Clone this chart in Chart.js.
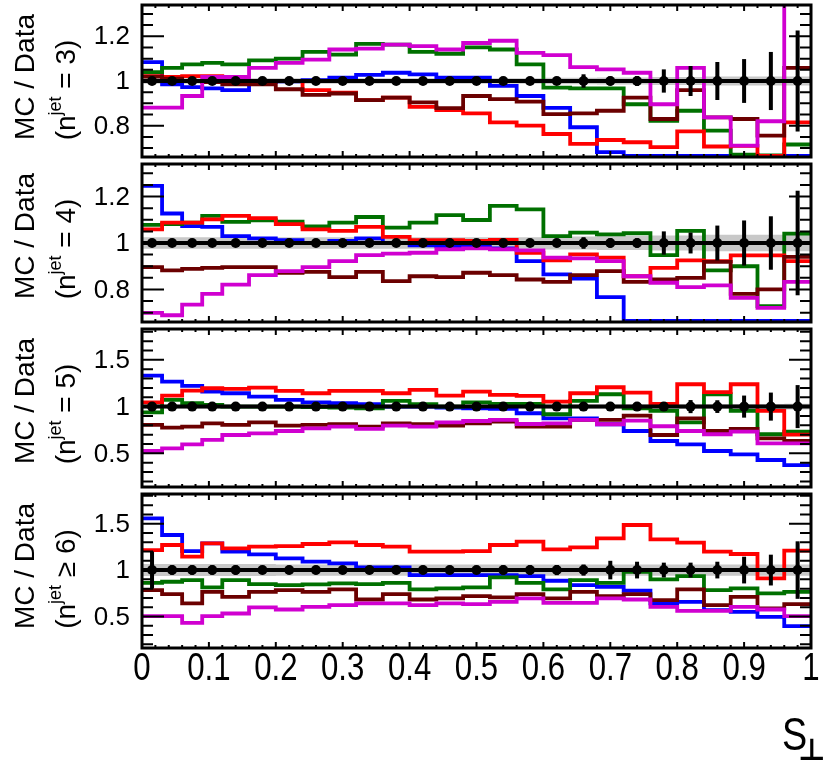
<!DOCTYPE html>
<html>
<head>
<meta charset="utf-8">
<script src="https://cdn.jsdelivr.net/npm/chart.js@4.4.0/dist/chart.umd.min.js"></script>
<style>
  html, body { margin: 0; padding: 0; background: #fff; }
  #wrap { position: relative; width: 835px; height: 763px; }
  #wrap canvas { position: absolute; left: 0; top: 0; }
</style>
</head>
<body>
<div id="wrap">
  <canvas id="jet3" width="835" height="763"></canvas>
  <canvas id="jet4" width="835" height="763"></canvas>
  <canvas id="jet5" width="835" height="763"></canvas>
  <canvas id="jet6" width="835" height="763"></canvas>
</div>
<script>
// ---- binning (first four bins are narrower) ----
const binEdges = [0, 0.03, 0.06, 0.09, 0.12, 0.16, 0.20, 0.24, 0.28, 0.32, 0.36, 0.40, 0.44,
  0.48, 0.52, 0.56, 0.60, 0.64, 0.68, 0.72, 0.76, 0.80, 0.84, 0.88, 0.92, 0.96, 1.00];
const xTicks = [0, 0.1, 0.2, 0.3, 0.4, 0.5, 0.6, 0.7, 0.8, 0.9, 1];
const xTickLabels = ['0', '0.1', '0.2', '0.3', '0.4', '0.5', '0.6', '0.7', '0.8', '0.9', '1'];
const yTicksNarrow = [0.8, 1, 1.2];
const yTicksWide = [0.5, 1, 1.5];

// data / data
const dataRatio = [1, 1, 1, 1, 1, 1, 1, 1, 1, 1, 1, 1, 1, 1, 1, 1, 1, 1, 1, 1, 1, 1, 1, 1, 1, 1];

// ---- n_jet = 3 ----
const blueJ3 = [1.084, 0.985, 0.973, 0.967, 0.959, 0.995, 0.998, 1.004, 1.015, 1.027, 1.037, 1.03, 1.015,
  1.015, 0.978, 0.933, 0.88, 0.793, 0.682, 0.665, 0.665, 0.665, 0.665, 0.665, 0.665, 0.665];
const greenJ3 = [1.04, 1.059, 1.074, 1.081, 1.074, 1.092, 1.10, 1.13, 1.118, 1.166, 1.163, 1.13, 1.122,
  1.15, 1.141, 1.074, 0.97, 0.967, 0.967, 0.896, 0.822, 0.867, 0.778, 0.671, 0.667, 0.716];
const magentaJ3 = [0.881, 0.881, 0.933, 1.018, 1.018, 1.059, 1.081, 1.096, 1.141, 1.145, 1.163, 1.156, 1.141,
  1.17, 1.18, 1.126, 1.116, 1.062, 1.052, 1.037, 0.896, 1.059, 0.837, 0.711, 0.82, 1.40];
const redJ3 = [1.022, 1.018, 1.022, 1.022, 1.0, 1.0, 1.0, 0.959, 0.948, 0.914, 0.926, 0.884, 0.87,
  0.855, 0.815, 0.8, 0.763, 0.719, 0.736, 0.726, 0.704, 0.775, 0.707, 0.71, 0.665, 0.815];
const maroonJ3 = [1.02, 1.01, 1.0, 0.995, 0.985, 0.985, 0.963, 0.938, 0.944, 0.914, 0.926, 0.904, 0.879,
  0.933, 0.919, 0.908, 0.852, 0.855, 0.867, 0.926, 0.83, 0.959, 0.837, 0.83, 0.756, 1.059];
const errJ3 = [0.012, 0.01, 0.01, 0.01, 0.01, 0.01, 0.01, 0.01, 0.01, 0.01, 0.01, 0.01, 0.012,
  0.012, 0.014, 0.016, 0.018, 0.03, 0.02, 0.022, 0.052, 0.067, 0.085, 0.098, 0.13, 0.226];
const bandJ3 = [0.012, 0.012, 0.012, 0.012, 0.012, 0.012, 0.012, 0.012, 0.012, 0.012, 0.012, 0.012, 0.012,
  0.012, 0.012, 0.012, 0.014, 0.014, 0.016, 0.016, 0.018, 0.018, 0.02, 0.02, 0.02, 0.02];

// ---- n_jet = 4 ----
const blueJ4 = [1.246, 1.127, 1.073, 1.069, 1.03, 1.02, 1.012, 1.0, 1.009, 1.02, 1.0, 0.99, 0.987,
  0.983, 0.977, 0.922, 0.865, 0.847, 0.767, 0.665, 0.665, 0.665, 0.665, 0.665, 0.665, 0.665];
const greenJ4 = [1.078, 1.081, 1.088, 1.117, 1.091, 1.098, 1.092, 1.071, 1.088, 1.112, 1.066, 1.088, 1.12,
  1.099, 1.16, 1.145, 1.03, 1.045, 1.037, 1.042, 0.948, 1.052, 0.882, 0.9, 0.728, 1.04];
const magentaJ4 = [0.699, 0.689, 0.735, 0.781, 0.821, 0.862, 0.879, 0.896, 0.922, 0.948, 0.954, 0.958, 0.973,
  0.977, 0.973, 0.968, 0.937, 0.934, 0.922, 0.857, 0.829, 0.81, 0.818, 0.764, 0.721, 0.833];
const redJ4 = [1.059, 1.088, 1.088, 1.102, 1.117, 1.107, 1.081, 1.059, 1.052, 1.069, 1.026, 1.012, 1.012,
  1.009, 1.013, 0.958, 0.925, 0.951, 0.937, 0.857, 0.893, 0.925, 0.922, 0.947, 0.947, 0.922];
const maroonJ4 = [0.896, 0.882, 0.889, 0.893, 0.896, 0.896, 0.872, 0.876, 0.853, 0.876, 0.836, 0.857, 0.853,
  0.872, 0.862, 0.843, 0.833, 0.862, 0.879, 0.833, 0.843, 0.85, 0.919, 0.781, 0.8, 0.94];
const errJ4 = [0.012, 0.01, 0.01, 0.01, 0.01, 0.01, 0.01, 0.01, 0.01, 0.01, 0.01, 0.012, 0.012,
  0.012, 0.014, 0.016, 0.018, 0.025, 0.02, 0.02, 0.05, 0.045, 0.075, 0.097, 0.115, 0.225];
const bandJ4 = [0.025, 0.025, 0.025, 0.025, 0.025, 0.025, 0.025, 0.025, 0.025, 0.025, 0.025, 0.025, 0.025,
  0.025, 0.025, 0.025, 0.028, 0.028, 0.03, 0.03, 0.032, 0.032, 0.035, 0.035, 0.035, 0.035];

// ---- n_jet = 5 ----
const blueJ5 = [1.332, 1.268, 1.221, 1.161, 1.143, 1.107, 1.071, 1.046, 1.036, 1.025, 1.0, 1.0, 0.99,
  0.982, 0.975, 0.929, 0.875, 0.875, 0.811, 0.739, 0.632, 0.596, 0.525, 0.489, 0.429, 0.375];
const greenJ5 = [0.939, 1.071, 1.036, 1.018, 1.0, 1.0, 1.0, 0.995, 0.99, 0.982, 1.061, 1.025, 1.0,
  1.046, 1.029, 1.029, 0.918, 1.061, 1.132, 0.982, 0.954, 0.832, 1.132, 0.954, 0.704, 0.732];
const magentaJ5 = [0.525, 0.554, 0.596, 0.643, 0.696, 0.714, 0.739, 0.768, 0.786, 0.761, 0.796, 0.786, 0.832,
  0.846, 0.857, 0.814, 0.821, 0.857, 0.811, 0.85, 0.79, 0.739, 0.704, 0.732, 0.607, 0.607];
const redJ5 = [1.046, 1.118, 1.171, 1.196, 1.189, 1.204, 1.168, 1.143, 1.168, 1.168, 1.143, 1.179, 1.118,
  1.161, 1.125, 1.114, 1.054, 1.143, 1.207, 1.15, 1.029, 1.239, 1.154, 1.239, 0.954, 0.70];
const maroonJ5 = [0.804, 0.775, 0.786, 0.821, 0.804, 0.832, 0.796, 0.804, 0.811, 0.786, 0.821, 0.811, 0.796,
  0.821, 0.839, 0.786, 0.786, 0.857, 0.857, 0.904, 0.696, 0.875, 0.739, 0.761, 0.661, 0.632];
const errJ5 = [0.025, 0.02, 0.02, 0.02, 0.02, 0.02, 0.02, 0.02, 0.02, 0.02, 0.02, 0.02, 0.02,
  0.02, 0.02, 0.02, 0.025, 0.025, 0.03, 0.03, 0.035, 0.07, 0.068, 0.118, 0.15, 0.23];
const bandJ5 = [0.02, 0.02, 0.02, 0.02, 0.02, 0.02, 0.02, 0.02, 0.02, 0.02, 0.02, 0.02, 0.02,
  0.02, 0.02, 0.02, 0.02, 0.022, 0.022, 0.024, 0.024, 0.026, 0.026, 0.028, 0.028, 0.03];

// ---- n_jet >= 6 ----
const blueJ6 = [1.558, 1.378, 1.205, 1.288, 1.198, 1.169, 1.126, 1.09, 1.072, 1.03, 1.03, 0.946, 0.946,
  0.946, 0.946, 0.935, 0.885, 0.838, 0.82, 0.777, 0.64, 0.658, 0.568, 0.55, 0.496, 0.395];
const greenJ6 = [0.863, 0.874, 0.892, 0.813, 0.892, 0.849, 0.838, 0.845, 0.856, 0.849, 0.863, 0.791, 0.802,
  0.813, 0.921, 0.863, 0.791, 0.892, 0.863, 0.982, 0.899, 0.935, 0.784, 0.802, 0.748, 0.766];
const magentaJ6 = [0.503, 0.503, 0.431, 0.503, 0.532, 0.597, 0.575, 0.604, 0.622, 0.64, 0.64, 0.622, 0.64,
  0.633, 0.658, 0.694, 0.647, 0.647, 0.694, 0.683, 0.604, 0.561, 0.561, 0.604, 0.575, 0.503];
const redJ6 = [1.216, 1.27, 1.144, 1.288, 1.234, 1.252, 1.259, 1.281, 1.299, 1.27, 1.252, 1.198, 1.198,
  1.205, 1.27, 1.306, 1.223, 1.245, 1.342, 1.486, 1.331, 1.295, 1.198, 1.173, 0.91, 1.209];
const maroonJ6 = [0.784, 0.741, 0.64, 0.766, 0.712, 0.766, 0.784, 0.766, 0.791, 0.683, 0.741, 0.683, 0.694,
  0.719, 0.705, 0.741, 0.694, 0.766, 0.719, 0.741, 0.676, 0.791, 0.622, 0.712, 0.586, 0.633];
const errJ6 = [0.2, 0.05, 0.05, 0.05, 0.05, 0.045, 0.045, 0.045, 0.045, 0.045, 0.045, 0.045, 0.045,
  0.045, 0.05, 0.05, 0.055, 0.06, 0.1, 0.09, 0.08, 0.08, 0.09, 0.144, 0.166, 0.31];
const bandJ6 = [0.065, 0.065, 0.065, 0.065, 0.065, 0.065, 0.06, 0.06, 0.06, 0.06, 0.06, 0.06, 0.06,
  0.06, 0.06, 0.06, 0.06, 0.06, 0.06, 0.06, 0.06, 0.06, 0.06, 0.06, 0.06, 0.06];

const histColors = ['#0000ff', '#007000', '#ff0000', '#6b0000', '#d000d0'];

const panels = [
  { id: 'jet3', top: 4, bottom: 157, min: 0.66, max: 1.34, ticks: yTicksNarrow, minor: 0.05, rel: '=', n: '3',
    hists: [blueJ3, greenJ3, redJ3, maroonJ3, magentaJ3], err: errJ3, band: bandJ3 },
  { id: 'jet4', top: 164, bottom: 322, min: 0.66, max: 1.34, ticks: yTicksNarrow, minor: 0.05, rel: '=', n: '4',
    hists: [blueJ4, greenJ4, redJ4, maroonJ4, magentaJ4], err: errJ4, band: bandJ4 },
  { id: 'jet5', top: 329, bottom: 487, min: 0.14, max: 1.83, ticks: yTicksWide, minor: 0.1, rel: '=', n: '5',
    hists: [blueJ5, greenJ5, redJ5, maroonJ5, magentaJ5], err: errJ5, band: bandJ5 },
  { id: 'jet6', top: 494, bottom: 648, min: 0.16, max: 1.82, ticks: yTicksWide, minor: 0.1, rel: '\u2265', n: '6',
    hists: [blueJ6, greenJ6, redJ6, maroonJ6, magentaJ6], err: errJ6, band: bandJ6, xLabels: true }
];

const FONT = '"Liberation Sans", Arial, Helvetica, sans-serif';
const binCenters = binEdges.slice(0, -1).map((e, i) => (e + binEdges[i + 1]) / 2);

function stepPoints(vals) {
  return binEdges.map((x, i) => ({ x, y: vals[Math.min(i, vals.length - 1)] }));
}

function bandPoints(widths, sign) {
  return binEdges.map((x, i) => {
    const k = Math.min(i, widths.length - 1);
    return { x, y: dataRatio[k] + sign * widths[k] };
  });
}

// frame, inward ticks, labels and error bars, ROOT style
function makeDecor(p) {
  return {
    id: 'decor_' + p.id,
    afterDatasetsDraw(chart) {
      const { ctx, chartArea: a } = chart;
      const xs = chart.scales.x, ys = chart.scales.y;
      ctx.save();
      ctx.beginPath();
      ctx.rect(a.left, a.top, a.right - a.left, a.bottom - a.top);
      ctx.clip();
      ctx.strokeStyle = '#000';
      ctx.lineWidth = 4;
      binCenters.forEach((c, i) => {
        const px = xs.getPixelForValue(c);
        ctx.beginPath();
        ctx.moveTo(px, ys.getPixelForValue(dataRatio[i] + p.err[i]));
        ctx.lineTo(px, ys.getPixelForValue(dataRatio[i] - p.err[i]));
        ctx.stroke();
      });
      ctx.restore();
    },
    afterDraw(chart) {
      const { ctx, chartArea: a } = chart;
      const xs = chart.scales.x, ys = chart.scales.y;
      ctx.save();
      ctx.strokeStyle = '#000';
      ctx.fillStyle = '#000';

      // y ticks, left and right
      ctx.lineWidth = 2;
      const nMinor = Math.round((p.max - p.min) / p.minor) + 2;
      const start = Math.ceil(p.min / p.minor - 1e-6) * p.minor;
      for (let k = 0; k < nMinor; k++) {
        const v = start + k * p.minor;
        if (v > p.max + 1e-6) break;
        const py = ys.getPixelForValue(v);
        const major = p.ticks.some(t => Math.abs(t - v) < 1e-6);
        const len = major ? 22 : 11;
        ctx.beginPath();
        ctx.moveTo(a.left, py); ctx.lineTo(a.left + len, py);
        ctx.moveTo(a.right, py); ctx.lineTo(a.right - len, py);
        ctx.stroke();
      }
      // x ticks, top and bottom
      for (let k = 0; k <= 50; k++) {
        const v = k * 0.02;
        const px = xs.getPixelForValue(v);
        const len = k % 5 === 0 ? 6 : 3;
        ctx.beginPath();
        ctx.moveTo(px, a.top); ctx.lineTo(px, a.top + len);
        ctx.moveTo(px, a.bottom); ctx.lineTo(px, a.bottom - len);
        ctx.stroke();
      }

      // frame
      ctx.lineWidth = 3;
      ctx.strokeRect(a.left, a.top, a.right - a.left, a.bottom - a.top);

      // y tick labels
      ctx.font = '26px ' + FONT;
      ctx.textAlign = 'right';
      ctx.textBaseline = 'middle';
      p.ticks.forEach(t => {
        ctx.fillText(String(t), 130, ys.getPixelForValue(t) + 1);
      });

      // rotated axis titles
      const mid = a.top;
      ctx.save();
      ctx.translate(34, mid + 72);
      ctx.rotate(-Math.PI / 2);
      ctx.font = '28px ' + FONT;
      ctx.textAlign = 'center';
      ctx.textBaseline = 'alphabetic';
      ctx.fillText('MC / Data', 0, 0);
      ctx.restore();

      ctx.save();
      ctx.translate(75, mid + 85);
      ctx.rotate(-Math.PI / 2);
      ctx.textBaseline = 'alphabetic';
      ctx.textAlign = 'left';
      const big = '28px ' + FONT, small = '18px ' + FONT;
      const s1 = '(n', s2 = 'jet', s3 = ' ' + p.rel + ' ' + p.n + ')';
      ctx.font = big; const w1 = ctx.measureText(s1).width, w3 = ctx.measureText(s3).width;
      ctx.font = small; const w2 = ctx.measureText(s2).width;
      let x0 = -(w1 + w2 + w3) / 2;
      ctx.font = big; ctx.fillText(s1, x0, 0); x0 += w1;
      ctx.font = small; ctx.fillText(s2, x0, -14); x0 += w2;
      ctx.font = big; ctx.fillText(s3, x0, 0);
      ctx.restore();

      // x tick labels and axis title under the last panel
      if (p.xLabels) {
        ctx.font = '38px ' + FONT;
        ctx.textAlign = 'center';
        ctx.textBaseline = 'alphabetic';
        xTicks.forEach((t, i) => {
          ctx.save();
          ctx.translate(xs.getPixelForValue(t), a.bottom + 32);
          ctx.scale(0.82, 1);
          ctx.fillText(xTickLabels[i], 0, 0);
          ctx.restore();
        });
        ctx.save();
        ctx.translate(782, 750);
        ctx.scale(0.82, 1);
        ctx.textAlign = 'left';
        ctx.font = '46px ' + FONT;
        ctx.fillText('S', 0, 0);
        ctx.restore();
        ctx.font = 'bold 30px "DejaVu Sans", sans-serif';
        ctx.textAlign = 'left';
        ctx.fillText('\u22A5', 798, 760);
      }
      ctx.restore();
    }
  };
}

panels.forEach(p => {
  // higher order is painted first: band at the back, data on top
  const datasets = [
    { order: 20, data: bandPoints(p.band, 1), stepped: true, borderWidth: 0, pointRadius: 0,
      fill: '+1', backgroundColor: '#c8c8c8' },
    { order: 19, data: bandPoints(p.band, -1), stepped: true, borderWidth: 0, pointRadius: 0, fill: false }
  ];
  p.hists.forEach((vals, i) => {
    datasets.push({ order: 10 - i, data: stepPoints(vals), stepped: true, borderColor: histColors[i],
      borderWidth: 3.8, pointRadius: 0, fill: false });
  });
  // data: unity line and markers at bin centres
  datasets.push({ order: 1, data: stepPoints(dataRatio), stepped: true, borderColor: '#000',
    borderWidth: 4, pointRadius: 0, fill: false });
  datasets.push({ order: 0, data: binCenters.map((c, i) => ({ x: c, y: dataRatio[i] })), showLine: false,
    pointRadius: 5, pointBackgroundColor: '#000', pointBorderColor: '#000', pointBorderWidth: 0 });

  new Chart(document.getElementById(p.id), {
    type: 'line',
    data: { datasets },
    options: {
      responsive: false,
      animation: false,
      events: [],
      layout: { padding: { left: 142, right: 24, top: p.top, bottom: 763 - p.bottom } },
      plugins: { legend: { display: false }, tooltip: { enabled: false } },
      scales: {
        x: { type: 'linear', min: 0, max: 1, display: false },
        y: { type: 'linear', min: p.min, max: p.max, display: false }
      }
    },
    plugins: [makeDecor(p)]
  });
});
</script>
</body>
</html>
